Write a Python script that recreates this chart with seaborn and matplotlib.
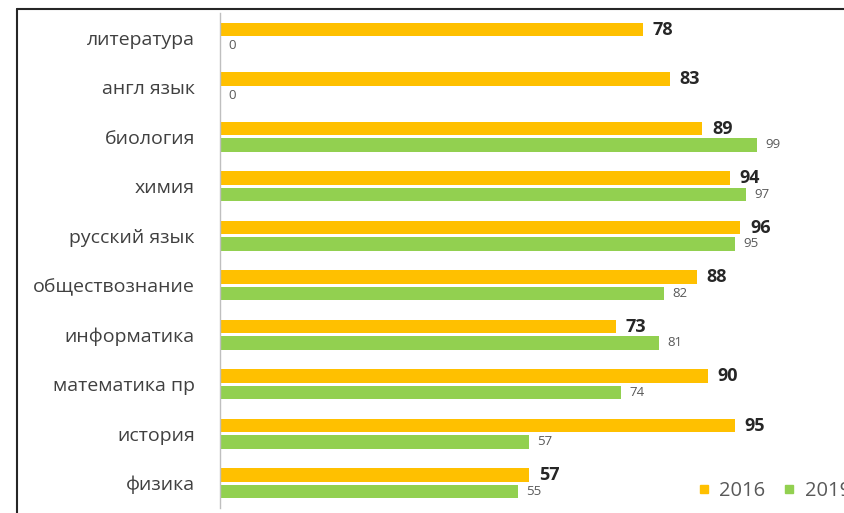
import pandas as pd
import matplotlib.pyplot as plt
import seaborn as sns
from matplotlib.lines import Line2D

# %% Daten
subjects = ['литература', 'англ язык', 'биология', 'химия', 'русский язык',
            'обществознание', 'информатика', 'математика пр', 'история', 'физика']
score_2016 = [78, 83, 89, 94, 96, 88, 73, 90, 95, 57]
score_2019 = [0, 0, 99, 97, 95, 82, 81, 74, 57, 55]
years = ['2016', '2019']
colors = ['#FFC000', '#92D050']

df = pd.DataFrame({
    'subject': subjects * 2,
    'score': score_2016 + score_2019,
    'year': [years[0]] * len(subjects) + [years[1]] * len(subjects),
})

# %% Plot
sns.set_style('white')
plt.rcParams['font.family'] = ['Open Sans', 'DejaVu Sans']

fig = plt.figure(figsize=(8.45, 5.13), dpi=100)
ax = fig.add_axes([220 / 845, 5 / 513, 1 - 220 / 845, 495 / 513])

sns.barplot(data=df, y='subject', x='score', hue='year', palette=colors,
            orient='h', width=0.66, gap=0.17, saturation=1, linewidth=0,
            legend=False, ax=ax)

ax.set_xlim(0, 115.3)
ax.set_xlabel('')
ax.set_ylabel('')
ax.set_xticks([])
ax.tick_params(axis='y', length=0, pad=18, labelsize=14, labelcolor='#404040')
for s in ['top', 'right', 'bottom']:
    ax.spines[s].set_visible(False)
ax.spines['left'].set_color('#BFBFBF')
ax.spines['left'].set_linewidth(1)

ax.bar_label(ax.containers[0], padding=7, fontsize=13, fontweight='bold',
             color='#262626')
ax.bar_label(ax.containers[1], padding=6, fontsize=9.5, color='#595959')

# Legende unten rechts, wie im Original am Rand abgeschnitten
handles = [Line2D([], [], marker='s', linestyle='', markersize=6,
                  color=c) for c in colors]
fig.legend(handles, years, loc='center left', bbox_to_anchor=(696 / 845, 1 - 491 / 513),
           ncol=2, frameon=False, fontsize=14.5, labelcolor='#595959',
           handletextpad=0.35, columnspacing=0.8, handlelength=0.8,
           borderaxespad=0, borderpad=0)

# Rahmen oben/links
y0 = 1 - 9 / 513
x0 = 17 / 845
fig.add_artist(Line2D([x0, 1], [y0, y0], color='#262626', lw=1.5, transform=fig.transFigure))
fig.add_artist(Line2D([x0, x0], [y0, 0], color='#262626', lw=1.5, transform=fig.transFigure))

fig.savefig('out.png', dpi=100)
